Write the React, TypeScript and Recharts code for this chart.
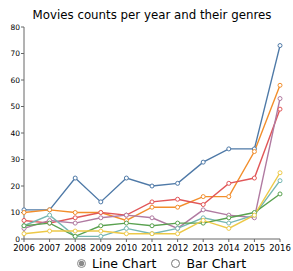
import { LineChart, Line, XAxis, YAxis } from 'recharts';

const years = ['2006', '2007', '2008', '2009', '2010', '2011', '2012', '2013', '2014', '2015', '2016'];

// one array per genre
const blue = [11, 11, 23, 14, 23, 20, 21, 29, 34, 34, 73];
const orange = [10, 11, 10, 10, 7, 12, 12, 16, 16, 33, 58];
const red = [7, 6, 8, 10, 9, 14, 15, 13, 21, 23, 49];
const purple = [4, 7, 6, 8, 9, 8, 4, 11, 9, 8, 53];
const teal = [5, 9, 1, 1, 4, 2, 4, 8, 6, 9, 22];
const green = [5, 6, 1, 5, 6, 5, 6, 6, 8, 10, 17];
const yellow = [2, 3, 3, 3, 2, 2, 2, 7, 4, 9, 25];

const yTicks = [0, 10, 20, 30, 40, 50, 60, 70, 80];

const series = [
  { key: 'blue', values: blue, color: '#4e79a7' },
  { key: 'orange', values: orange, color: '#f28e2b' },
  { key: 'red', values: red, color: '#e15759' },
  { key: 'purple', values: purple, color: '#b07aa1' },
  { key: 'teal', values: teal, color: '#76b7b2' },
  { key: 'green', values: green, color: '#59a14f' },
  { key: 'yellow', values: yellow, color: '#edc948' },
];

const data = years.map((year, i) => {
  const row: Record<string, string | number> = { year };
  series.forEach((s) => { row[s.key] = s.values[i]; });
  return row;
});

const font = '"DejaVu Sans", Verdana, sans-serif';
const radioStyle = { width: 9, height: 9, margin: '0 6px 0 3px', accentColor: '#8a8a8a' };

export default function App() {
  return (
    <div style={{ position: 'absolute', left: 0, top: 0, width: 293, height: 271, fontFamily: font, background: '#fff' }}>
      <div style={{ position: 'absolute', top: 7, left: 2, width: 300, textAlign: 'center', fontSize: 11.8, lineHeight: '16px' }}>
        Movies counts per year and their genres
      </div>
      <LineChart width={293} height={257} data={data} margin={{ top: 27, right: 13, left: 0, bottom: 0 }}>
        <XAxis
          dataKey="year"
          height={18}
          tickSize={3}
          tickMargin={3}
          interval={0}
          stroke="#666"
          tick={{ fill: '#000', fontSize: 8.5, fontFamily: font }}
        />
        <YAxis
          width={24}
          domain={[0, 80]}
          ticks={yTicks}
          tickSize={3}
          tickMargin={1}
          stroke="#666"
          tick={{ fill: '#000', fontSize: 7.5, fontFamily: font }}
        />
        {series.map((s) => (
          <Line
            key={s.key}
            dataKey={s.key}
            stroke={s.color}
            strokeWidth={1.4}
            dot={{ r: 2, fill: '#fff', stroke: s.color, strokeWidth: 1 }}
            isAnimationActive={false}
          />
        ))}
      </LineChart>
      <div style={{ position: 'absolute', top: 256, left: 74, fontSize: 12.5, display: 'flex', alignItems: 'center', gap: 12 }}>
        <label style={{ display: 'flex', alignItems: 'center' }}>
          <input type="radio" name="chart" defaultChecked style={radioStyle} />
          Line Chart
        </label>
        <label style={{ display: 'flex', alignItems: 'center' }}>
          <input type="radio" name="chart" style={radioStyle} />
          Bar Chart
        </label>
      </div>
    </div>
  );
}
